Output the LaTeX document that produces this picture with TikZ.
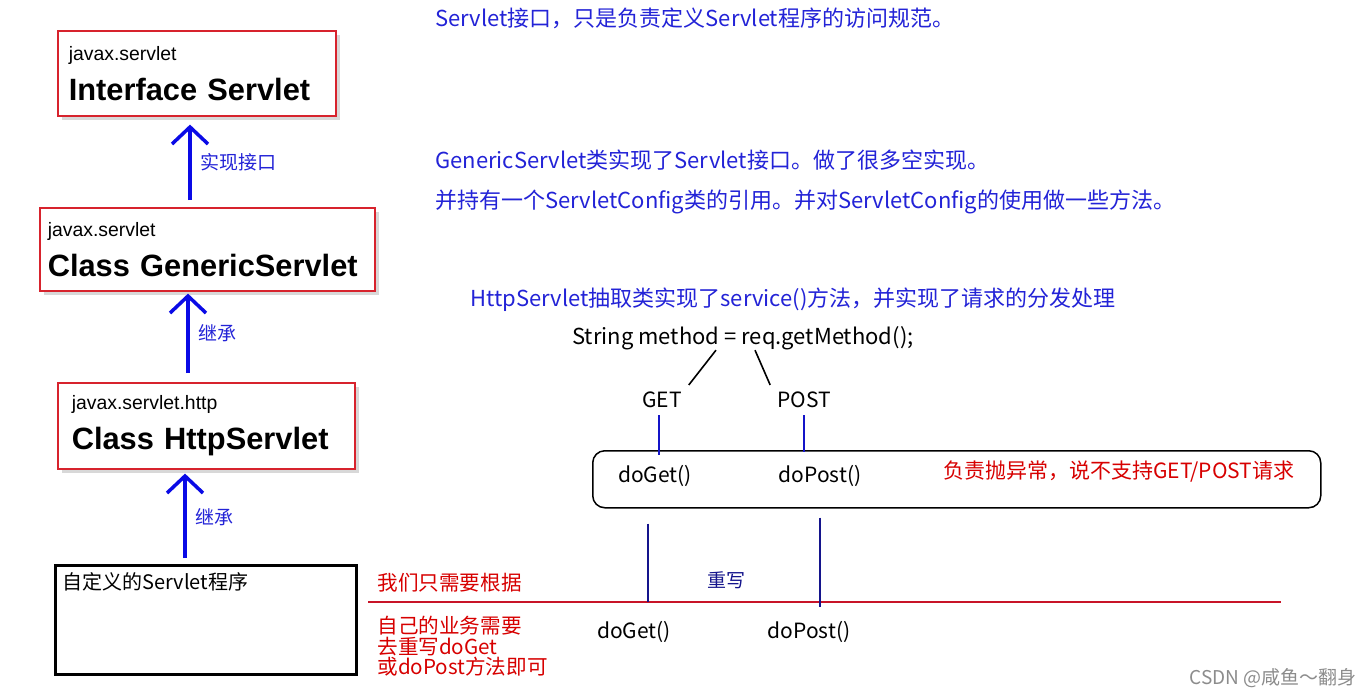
\documentclass[tikz,border=0pt]{standalone}
\usepackage{fontspec}
\setmainfont{Liberation Sans}
\newfontfamily\cjk{Noto Sans CJK SC}
\usepackage{tikz}
\usetikzlibrary{arrows.meta,positioning,shadows}

\definecolor{clsred}{RGB}{215,35,45}
\definecolor{arrowblue}{RGB}{10,10,230}
\definecolor{noteblue}{RGB}{35,35,215}
\definecolor{routeblue}{RGB}{20,20,200}
\definecolor{ovrnavy}{RGB}{20,20,140}
\definecolor{warnred}{RGB}{215,0,0}
\definecolor{sepred}{RGB}{200,20,40}

\newcommand{\pkgline}[1]{{\fontsize{9.7}{12}\selectfont #1}}
\newcommand{\tightlines}{\lineskiplimit=-10pt\relax}

\begin{document}
\begin{tikzpicture}[
    x=0.5pt, y=-0.5pt,
    cls/.style={
        draw=clsred,
        line width=0.8pt,
        fill=white,
        drop shadow={shadow xshift=2pt, shadow yshift=-2pt, opacity=0.3},
        anchor=north west,
        align=left,
        inner ysep=0pt,
        font=\fontsize{15.4}{20}\selectfont
    },
    mine/.style={
        draw,
        line width=1.5pt,
        anchor=north west,
        minimum width=150.5pt,
        minimum height=54.5pt
    },
    proc/.style={
        draw,
        rounded corners=6pt,
        line width=0.75pt,
        anchor=north west,
        minimum width=364pt,
        minimum height=28.5pt
    },
    inh/.style={draw=arrowblue, line width=1.75pt, -{Straight Barb[length=8.5pt, width=18pt]}},
    lbl/.style={font=\cjk\fontsize{9.5}{11}\selectfont, text=noteblue},
    note/.style={anchor=west, inner sep=0pt, font=\cjk\fontsize{11}{13}\selectfont, text=noteblue},
    code/.style={anchor=west, inner sep=0pt, font=\cjk\fontsize{11}{13}\selectfont},
    meth/.style={font=\cjk\fontsize{10.5}{12}\selectfont},
    warn/.style={inner sep=0pt, text=warnred, font=\cjk\fontsize{10.3}{10.3}\selectfont\tightlines},
    split/.style={line width=0.8pt},
    route/.style={draw=routeblue, line width=1pt},
    ovr/.style={draw=ovrnavy, line width=0.9pt},
    sepline/.style={draw=sepred, line width=0.8pt},
    wm/.style={text=black!45, font=\cjk\fontsize{9.5}{11}\selectfont}
]
    \path[fill=white, use as bounding box] (0,0) rectangle (1371,697);

    %% Klassenhierarchie
    \node[cls, inner xsep=5.5pt, text width=128pt, minimum height=42.5pt] (servlet) at (57,30)
        {\pkgline{javax.servlet}\\\textbf{Interface Servlet}};
    \node[cls, inner xsep=4pt, text width=159.5pt, minimum height=41.5pt] (generic) at (39,207)
        {\pkgline{javax.servlet}\\\textbf{Class GenericServlet}};
    \node[cls, inner xsep=7pt, text width=134.5pt, minimum height=43pt] (http) at (57,382)
        {\pkgline{javax.servlet.http}\\\textbf{Class HttpServlet}};
    \node[mine, label={[anchor=north west, inner sep=4pt, font=\cjk\fontsize{10}{12}\selectfont]north west:自定义的Servlet程序}] (mine) at (54,564) {};

    %% Pfeile
    \draw[inh, shorten <=3.5pt, shorten >=4pt] (generic.north -| 190,0) -- (servlet.south -| 190,0)
        node[lbl, midway, right=1pt] {实现接口};
    \draw[inh, shorten <=4.5pt, shorten >=1pt] (http.north -| 188,0) -- (generic.south -| 188,0)
        node[lbl, midway, right=1pt, yshift=2pt] {继承};
    \draw[inh, shorten <=3pt, shorten >=2pt] (mine.north -| 185,0) -- (http.south -| 185,0)
        node[lbl, midway, right=1pt] {继承};

    %% Erklaerungen
    \node[note] (n1) at (435,18) {Servlet接口，只是负责定义Servlet程序的访问规范。};
    \node[note] (n2) at (435,160) {GenericServlet类实现了Servlet接口。做了很多空实现。};
    \node[note] (n3) at (435,202) {并持有一个ServletConfig类的引用。并对ServletConfig的使用做一些方法。};
    \node[note] (n4) at (470,300) {HttpServlet抽取类实现了service()方法，并实现了请求的分发处理};

    %% service() Verteilung
    \node[code] (code) at (572,338) {String method = req.getMethod();};
    \node[meth] (get) at (662,400) {GET};
    \node[meth] (post) at (804,400) {POST};
    \draw[split] (code.south -| 716,0) -- (get.north east);
    \draw[split] (code.south -| 755,0) -- (post.north west);

    \node[proc] (proc) at (592,450) {};
    \node[meth] (doget) at (655,476) {doGet()};
    \node[meth] (dopost) at (820,476) {doPost()};
    \node[warn, anchor=west, font=\cjk\fontsize{10.5}{12}\selectfont] (refuse) at (943,472) {负责抛异常，说不支持GET/POST请求};
    \draw[route, shorten >=-2.5pt] (get.south -| 659,0) -- (proc.north -| 659,0);
    \draw[route, shorten >=-1pt] (post.south) -- (post.south |- proc.north);

    %% Ueberschreiben
    \coordinate (sepL) at (368,602);
    \coordinate (sepR) at (1281,602);
    \draw[sepline] (sepL) -- (sepR);
    \draw[ovr, shorten <=7.5pt] (proc.south -| 648,0) -- (sepL -| 648,0);
    \draw[ovr, shorten <=4.5pt, shorten >=-2.5pt] (proc.south -| 820,0) -- (sepL -| 820,0);

    \node[warn, anchor=west] (need) at (377,583) {我们只需要根据};
    \node[lbl, text=ovrnavy] (rewrite) at (726,580) {重写};
    \node[warn, anchor=north west, align=left] (own) at (377,616) {自己的业务需要\\去重写doGet\\或doPost方法即可};
    \node[meth] (doget2) at (634,632) {doGet()};
    \node[meth] (dopost2) at (809,632) {doPost()};

    \node[wm, anchor=east] (wmark) at (1364,678) {CSDN @咸鱼～翻身};
\end{tikzpicture}
\end{document}
